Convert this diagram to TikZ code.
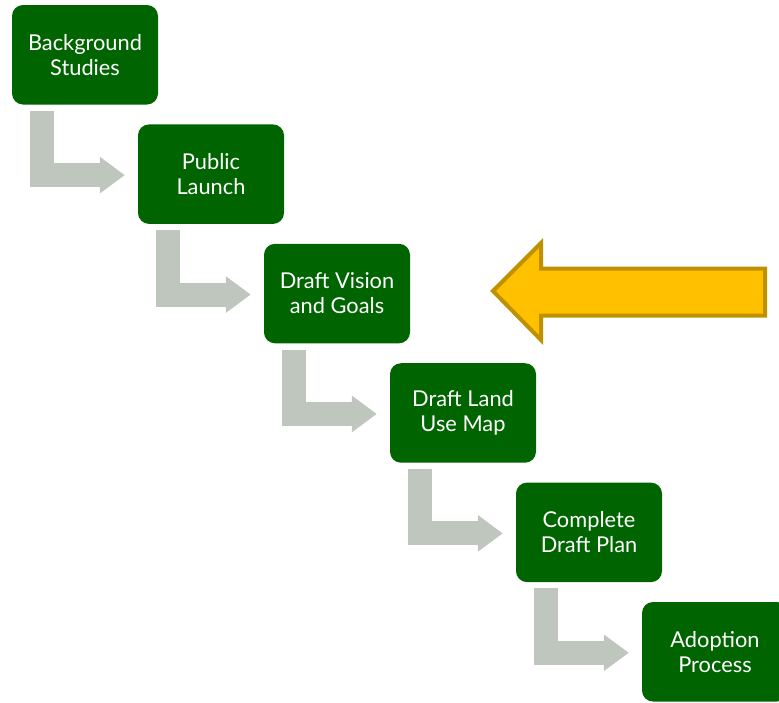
\documentclass[tikz,border=0pt]{standalone}
\usepackage{fontspec}
\setmainfont{Lato}
\usetikzlibrary{arrows.meta,calc}
\definecolor{boxgreen}{RGB}{0,100,0}
\definecolor{elbowgray}{RGB}{191,198,190}
\definecolor{goldfill}{RGB}{255,192,0}
\definecolor{goldline}{RGB}{191,144,0}
\tikzset{
  stepbox/.style={fill=boxgreen, rounded corners=11pt, minimum width=146pt, minimum height=99.5pt,
    inner sep=0pt, text=white, align=center, font=\fontsize{21.8}{25}\selectfont},
  elbow/.style={draw=elbowgray, line width=24pt, line join=miter,
    -{Triangle[length=25pt,width=35pt]}},
}
\begin{document}
\begin{tikzpicture}[x=1pt,y=-1pt]
\useasboundingbox (0,0) rectangle (779,702);
\begin{scope}
\clip (0,0) rectangle (779,702);
\node[stepbox] (b1) at (85,54.75) {Background\\Studies};
\node[stepbox] (b2) at (211,174.15) {Public\\Launch};
\node[stepbox] (b3) at (337,293.55) {Draft Vision\\and Goals};
\node[stepbox] (b4) at (463,412.95) {Draft Land\\Use Map};
\node[stepbox] (b5) at (589,532.35) {Complete\\Draft Plan};
\node[stepbox] (b6) at (715,651.75) {Adoption\\Process};
\draw[elbow] ($(b1.south west)+(30,6)$) |- ($(b2.west)+(-13,1)$);
\draw[elbow] ($(b2.south west)+(30,6)$) |- ($(b3.west)+(-13,1)$);
\draw[elbow] ($(b3.south west)+(30,6)$) |- ($(b4.west)+(-13,1)$);
\draw[elbow] ($(b4.south west)+(30,6)$) |- ($(b5.west)+(-13,1)$);
\draw[elbow] ($(b5.south west)+(30,6)$) |- ($(b6.west)+(-13,1)$);
\draw[draw=goldline, fill=goldfill, line width=4pt, line join=miter]
  (493,291) -- (541,243) -- (541,268.5) -- (765,268.5) -- (765,315.5) -- (541,315.5) -- (541,340) -- cycle;
\end{scope}
\end{tikzpicture}
\end{document}
